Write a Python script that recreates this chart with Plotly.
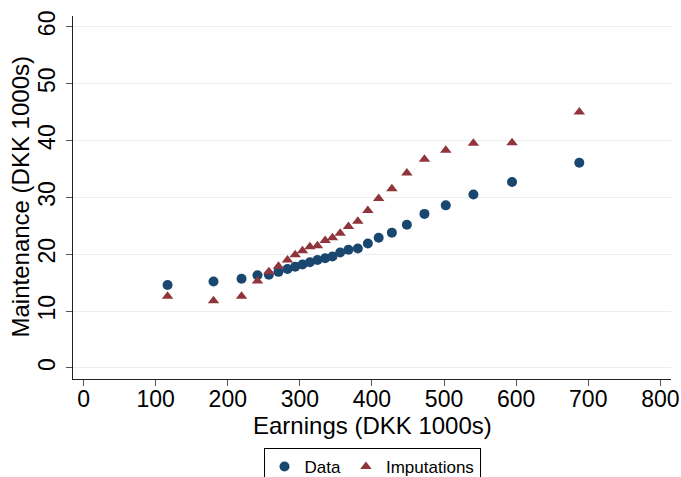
import plotly.graph_objs as go

# earnings bins (DKK 1000s)
earnings = [116.5, 180.2, 219.1, 241.2, 257.0, 270.3, 282.8, 293.5, 303.6, 313.9,
            324.4, 335.1, 345.2, 355.9, 367.4, 380.4, 394.3, 409.3, 427.6, 448.4,
            472.8, 502.4, 540.7, 594.3, 687.6]

maintenance_data = [14.6, 15.2, 15.7, 16.3, 16.4, 16.9, 17.4, 17.8, 18.2, 18.6,
                    19.0, 19.3, 19.6, 20.3, 20.8, 21.0, 21.9, 22.9, 23.8, 25.2,
                    27.1, 28.6, 30.5, 32.7, 36.1]

maintenance_imputed = [12.6, 11.8, 12.6, 15.3, 16.9, 17.9, 19.0, 19.9, 20.6, 21.3,
                       21.5, 22.4, 22.9, 23.7, 24.9, 25.8, 27.7, 29.8, 31.5, 34.3,
                       36.7, 38.3, 39.5, 39.6, 45.0]

x_ticks = [0, 100, 200, 300, 400, 500, 600, 700, 800]
y_ticks = [0, 10, 20, 30, 40, 50, 60]

NAVY = '#1a476f'
MAROON = '#90353b'
FONT = 'Liberation Sans, Arial, sans-serif'

figure = go.Figure()

figure.add_trace(go.Scatter(x=earnings, y=maintenance_data, name='Data', mode='markers',
                            marker=dict(color=NAVY, size=10, symbol='circle', line=dict(width=0))))

figure.add_trace(go.Scatter(x=earnings, y=maintenance_imputed, name='Imputations', mode='markers',
                            marker=dict(color=MAROON, size=10, symbol='triangle-up', line=dict(width=0))))

axis_style = dict(showline=True, linecolor='#222222', linewidth=1, mirror=False, automargin=False,
                  ticks='outside', ticklen=6, tickcolor='#555555', tickwidth=1,
                  zeroline=False, tickfont=dict(family=FONT, size=23, color='black'))

figure.update_xaxes(range=[-14.7, 814.8], tickvals=x_ticks, showgrid=False, ticklabelstandoff=-7,
                    **axis_style)

figure.update_yaxes(range=[-1.94, 61.9], tickvals=y_ticks, tickangle=-90, ticklabelstandoff=2,
                    showgrid=True, gridcolor='#e9f0f1', gridwidth=1.2, **axis_style)

# axis titles placed by hand so they sit where the original has them
figure.add_annotation(text='Earnings (DKK 1000s)', xref='paper', yref='paper', x=0.5, y=0,
                      xanchor='center', yanchor='middle', yshift=-46, showarrow=False,
                      font=dict(family=FONT, size=24, color='black'))
figure.add_annotation(text='Maintenance (DKK 1000s)', xref='paper', yref='paper', x=0, y=0.5,
                      xanchor='center', yanchor='middle', xshift=-53, textangle=-90, showarrow=False,
                      font=dict(family=FONT, size=24, color='black'))

# autoexpand off: the legend runs past the bottom edge, as in the original, without squeezing the plot
figure.update_layout(width=681, height=477, margin=dict(l=73, r=10, t=16, b=98, autoexpand=False),
                     plot_bgcolor='white', paper_bgcolor='white',
                     font=dict(family=FONT, color='black'),
                     legend=dict(orientation='h', x=0.5, xanchor='center', y=-0.19, yanchor='top',
                                 bordercolor='black', borderwidth=1, bgcolor='white',
                                 font=dict(family=FONT, size=17), itemwidth=30))

# the page body has a default 8px margin; drop it so the figure sits at the window corner
figure.write_html('out.html', config={'displayModeBar': False},
                  post_script="document.body.style.margin='0';")
